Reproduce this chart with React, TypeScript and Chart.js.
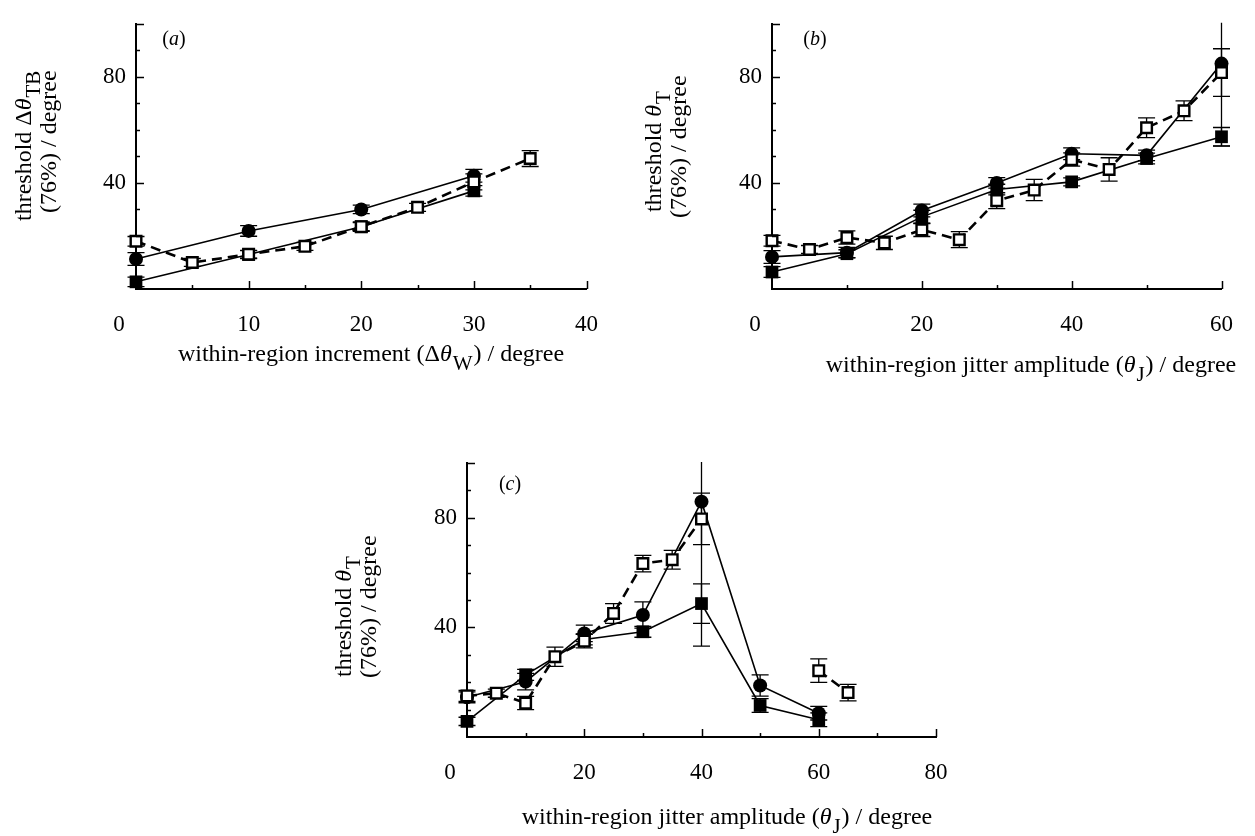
import React, { useEffect, useRef } from 'react';
import { Chart, registerables } from 'chart.js';

Chart.register(...registerables);

const FAMILY = "'Liberation Serif', 'Times New Roman', Times, serif";
const TICK_SIZE = 23;
const TITLE_SIZE = 24;
const LETTER_SIZE = 20;
const X_TICK_PAD = 22;

// ---------------- Panel (a) ----------------
const aXTickLabels = [0, 10, 20, 30, 40];
const aYTickLabels = [40, 80];
const aCircleX = [0, 10, 20, 30];
const aCircleY = [11.3, 21.9, 30.0, 42.7];
const aCircleErr = [2.4, 2.0, 1.6, 2.4];
const aFilledX = [0, 10, 20, 30];
const aFilledY = [2.7, 13.0, 23.5, 37.0];
const aFilledErr = [1.8, 1.5, 1.5, 2.0];
const aOpenX = [0, 5, 10, 15, 20, 25, 30, 35];
const aOpenY = [18.0, 10.0, 13.1, 16.1, 23.5, 30.8, 40.4, 49.2];
const aOpenErr = [1.8, 1.5, 1.5, 1.5, 1.8, 1.5, 3.0, 3.0];

// ---------------- Panel (b) ----------------
const bXTickLabels = [0, 20, 40, 60];
const bYTickLabels = [40, 80];
const bCircleX = [0, 10, 20, 30, 40, 50, 60];
const bCircleY = [12.1, 13.7, 29.6, 40.0, 51.0, 50.4, 85.0];
const bCircleErr = [2.4, 2.0, 2.4, 2.0, 2.2, 2.0, 31.0];
const bFilledX = [0, 10, 20, 30, 40, 50, 60];
const bFilledY = [6.4, 13.3, 27.2, 37.5, 40.4, 49.2, 57.4];
const bFilledErr = [2.0, 1.5, 2.5, 2.0, 1.5, 2.0, 3.5];
const bOpenX = [0, 5, 10, 15, 20, 25, 30, 35, 40, 45, 50, 55, 60];
const bOpenY = [18.2, 14.9, 19.4, 17.4, 22.3, 18.6, 33.3, 37.3, 48.8, 45.1, 60.8, 67.2, 81.6];
const bOpenErr = [2.0, 1.5, 2.5, 2.5, 2.5, 3.0, 3.0, 4.0, 2.5, 4.4, 3.7, 3.7, 9.0];

// ---------------- Panel (c) ----------------
const cXTickLabels = [0, 20, 40, 60, 80];
const cYTickLabels = [40, 80];
const cCircleX = [0, 10, 20, 30, 40, 50, 60];
const cCircleY = [14.5, 20.2, 37.8, 44.5, 85.9, 18.8, 8.7];
const cCircleErr = [2.0, 3.0, 3.0, 4.8, 52.7, 3.9, 2.5];
const cFilledX = [0, 10, 20, 30, 40, 50, 60];
const cFilledY = [5.7, 22.7, 35.6, 38.4, 48.7, 11.5, 6.3];
const cFilledErr = [1.5, 2.0, 2.0, 2.0, 7.2, 2.5, 2.5];
const cOpenX = [0, 5, 10, 15, 20, 25, 30, 35, 40, 50, 60, 65];
const cOpenY: (number | null)[] = [15.0, 16.0, 12.4, 29.3, 35.0, 45.1, 63.3, 64.7, 79.6, null, 24.2, 16.2];
const cOpenErr = [2.0, 1.5, 2.4, 3.5, 2.5, 3.6, 3.0, 3.4, 9.4, 0, 4.3, 3.0];

type Seg = { t: string; it?: boolean; sub?: boolean };
type Kind = 'open' | 'circle' | 'filled';
type Series = { kind: Kind; x: number[]; y: (number | null)[]; err: number[] };
type Panel = {
  key: string;
  left: number;
  top: number;
  width: number;
  height: number;
  area: { l: number; r: number; t: number; b: number };
  xMax: number;
  yMax: number;
  xMinor: number;
  yMinor: number;
  xTicks: number[];
  yTicks: number[];
  series: Series[];
  letter: string;
  letterPos: [number, number];
  xTitle: Seg[];
  xTitlePos: [number, number];
  yTitle: Seg[][];
  yTitlePos: [number, number][];
};

const jitterTitle: Seg[] = [
  { t: 'within-region jitter amplitude (' },
  { t: 'θ', it: true },
  { t: 'J', sub: true },
  { t: ') / degree' },
];
const thetaT: Seg[][] = [
  [{ t: 'threshold ' }, { t: 'θ', it: true }, { t: 'T', sub: true }],
  [{ t: '(76%) / degree' }],
];

const panels: Panel[] = [
  {
    key: 'a',
    left: 0,
    top: 0,
    width: 620,
    height: 400,
    area: { l: 136, r: 606, t: 15, b: 289 },
    xMax: 40,
    yMax: 100,
    xMinor: 5,
    yMinor: 10,
    xTicks: aXTickLabels,
    yTicks: aYTickLabels,
    series: [
      { kind: 'open', x: aOpenX, y: aOpenY, err: aOpenErr },
      { kind: 'circle', x: aCircleX, y: aCircleY, err: aCircleErr },
      { kind: 'filled', x: aFilledX, y: aFilledY, err: aFilledErr },
    ],
    letter: 'a',
    letterPos: [174, 45],
    xTitle: [
      { t: 'within-region increment (Δ' },
      { t: 'θ', it: true },
      { t: 'W', sub: true },
      { t: ') / degree' },
    ],
    xTitlePos: [371, 361],
    yTitle: [
      [{ t: 'threshold Δ' }, { t: 'θ', it: true }, { t: 'TB', sub: true }],
      [{ t: '(76%) / degree' }],
    ],
    yTitlePos: [
      [31, 221],
      [56, 213],
    ],
  },
  {
    key: 'b',
    left: 620,
    top: 0,
    width: 635,
    height: 400,
    area: { l: 152, r: 620, t: 15, b: 289 },
    xMax: 60,
    yMax: 100,
    xMinor: 10,
    yMinor: 10,
    xTicks: bXTickLabels,
    yTicks: bYTickLabels,
    series: [
      { kind: 'open', x: bOpenX, y: bOpenY, err: bOpenErr },
      { kind: 'circle', x: bCircleX, y: bCircleY, err: bCircleErr },
      { kind: 'filled', x: bFilledX, y: bFilledY, err: bFilledErr },
    ],
    letter: 'b',
    letterPos: [195, 45],
    xTitle: jitterTitle,
    xTitlePos: [411, 372],
    yTitle: thetaT,
    yTitlePos: [
      [41, 212],
      [66, 218],
    ],
  },
  {
    key: 'c',
    left: 300,
    top: 420,
    width: 700,
    height: 416,
    area: { l: 167, r: 636, t: 43, b: 317 },
    xMax: 80,
    yMax: 100,
    xMinor: 10,
    yMinor: 10,
    xTicks: cXTickLabels,
    yTicks: cYTickLabels,
    series: [
      { kind: 'open', x: cOpenX, y: cOpenY, err: cOpenErr },
      { kind: 'circle', x: cCircleX, y: cCircleY, err: cCircleErr },
      { kind: 'filled', x: cFilledX, y: cFilledY, err: cFilledErr },
    ],
    letter: 'c',
    letterPos: [210, 70],
    xTitle: jitterTitle,
    xTitlePos: [427, 404],
    yTitle: thetaT,
    yTitlePos: [
      [51, 257],
      [76, 258],
    ],
  },
];

function drawRich(
  ctx: CanvasRenderingContext2D,
  segs: Seg[],
  x: number,
  y: number,
  size: number,
  align: 'left' | 'center',
  rotate: boolean
) {
  ctx.save();
  ctx.translate(x, y);
  if (rotate) ctx.rotate(-Math.PI / 2);
  ctx.textBaseline = 'alphabetic';
  ctx.textAlign = 'left';
  ctx.fillStyle = '#000';
  const fonts = segs.map(
    (s) => `${s.it ? 'italic ' : ''}${s.sub ? Math.round(size * 0.86) : size}px ${FAMILY}`
  );
  const widths = segs.map((s, i) => {
    ctx.font = fonts[i];
    return ctx.measureText(s.t).width + (s.sub ? size * 0.08 : 0);
  });
  const total = widths.reduce((a, b) => a + b, 0);
  let cx = align === 'center' ? -total / 2 : 0;
  segs.forEach((s, i) => {
    ctx.font = fonts[i];
    ctx.fillText(s.t, cx + (s.sub ? size * 0.04 : 0), s.sub ? size * 0.36 : 0);
    cx += widths[i];
  });
  ctx.restore();
}

function makeDecor(p: Panel) {
  return {
    id: 'decor_' + p.key,
    beforeDatasetsDraw(chart: any) {
      const ctx: CanvasRenderingContext2D = chart.ctx;
      const a = chart.chartArea;
      const ys = chart.scales.y;
      ctx.save();
      ctx.beginPath();
      ctx.rect(0, a.top - 1, chart.width, a.bottom - a.top + 2);
      ctx.clip();
      ctx.strokeStyle = '#000';
      ctx.lineWidth = 1.3;
      p.series.forEach((s, di) => {
        const meta = chart.getDatasetMeta(di);
        s.y.forEach((v, j) => {
          const e = s.err[j];
          if (v === null || !e) return;
          const px = meta.data[j].x;
          const top = ys.getPixelForValue(v + e);
          const bot = ys.getPixelForValue(v - e);
          ctx.beginPath();
          ctx.moveTo(px, top);
          ctx.lineTo(px, bot);
          ctx.moveTo(px - 8.5, top);
          ctx.lineTo(px + 8.5, top);
          ctx.moveTo(px - 8.5, bot);
          ctx.lineTo(px + 8.5, bot);
          ctx.stroke();
        });
      });
      ctx.restore();
    },
    afterDraw(chart: any) {
      const ctx: CanvasRenderingContext2D = chart.ctx;
      const a = chart.chartArea;
      const xs = chart.scales.x;
      const ys = chart.scales.y;
      ctx.save();
      ctx.strokeStyle = '#000';
      ctx.lineWidth = 1.5;
      // inward tick marks on x
      for (let v = p.xMinor; v <= p.xMax + 1e-9; v += p.xMinor) {
        const px = Math.round(xs.getPixelForValue(v)) + 0.5;
        const major = p.xTicks.includes(v) || v === p.xMax;
        ctx.beginPath();
        ctx.moveTo(px, a.bottom);
        ctx.lineTo(px, a.bottom - (major ? 8 : 4));
        ctx.stroke();
      }
      // inward tick marks on y
      for (let v = p.yMinor; v <= p.yMax + 1e-9; v += p.yMinor) {
        const py = Math.round(ys.getPixelForValue(v)) + 0.5;
        const major = p.yTicks.includes(v) || v === p.yMax;
        ctx.beginPath();
        ctx.moveTo(a.left, py);
        ctx.lineTo(a.left + (major ? 8 : 4), py);
        ctx.stroke();
      }
      // the "0" x label sits left of the axis origin in the original
      ctx.fillStyle = '#000';
      ctx.font = `${TICK_SIZE}px ${FAMILY}`;
      ctx.textAlign = 'center';
      ctx.textBaseline = 'middle';
      ctx.fillText('0', xs.getPixelForValue(0) - 17, a.bottom + X_TICK_PAD + TICK_SIZE * 0.6);
      ctx.restore();

      drawRich(ctx, p.xTitle, p.xTitlePos[0], p.xTitlePos[1], TITLE_SIZE, 'center', false);
      p.yTitle.forEach((line, i) =>
        drawRich(ctx, line, p.yTitlePos[i][0], p.yTitlePos[i][1], TITLE_SIZE, 'left', true)
      );
      drawRich(
        ctx,
        [{ t: '(' }, { t: p.letter, it: true }, { t: ')' }],
        p.letterPos[0],
        p.letterPos[1],
        LETTER_SIZE,
        'center',
        false
      );
    },
  };
}

function toDataset(s: Series) {
  const base: any = {
    data: s.x.map((x, i) => ({ x, y: s.y[i] })),
    borderColor: '#000',
    pointBorderColor: '#000',
    showLine: true,
    tension: 0,
    clip: false,
    spanGaps: false,
    pointHoverRadius: 0,
  };
  if (s.kind === 'open') {
    return {
      ...base,
      borderWidth: 2.6,
      borderDash: [10, 6],
      pointStyle: 'rect',
      pointRadius: 7.5,
      pointBorderWidth: 2.4,
      pointBackgroundColor: '#fff',
    };
  }
  if (s.kind === 'filled') {
    return {
      ...base,
      borderWidth: 1.6,
      pointStyle: 'rect',
      pointRadius: 9,
      pointBorderWidth: 0,
      pointBackgroundColor: '#000',
    };
  }
  return {
    ...base,
    borderWidth: 1.6,
    pointStyle: 'circle',
    pointRadius: 7,
    pointBorderWidth: 0,
    pointBackgroundColor: '#000',
  };
}

function PanelChart({ p }: { p: Panel }) {
  const ref = useRef<HTMLCanvasElement>(null);
  useEffect(() => {
    const canvas = ref.current;
    if (!canvas) return;
    const tickFont = { family: FAMILY, size: TICK_SIZE };
    const chart = new Chart(canvas, {
      type: 'scatter',
      data: { datasets: p.series.map(toDataset) },
      options: {
        animation: false,
        responsive: false,
        maintainAspectRatio: false,
        devicePixelRatio: 1,
        events: [],
        layout: { padding: { left: 0, top: p.area.t, right: p.width - p.area.r, bottom: 0 } },
        plugins: { legend: { display: false }, tooltip: { enabled: false } },
        scales: {
          x: {
            type: 'linear',
            min: 0,
            max: p.xMax,
            afterFit: (s: any) => {
              s.height = p.height - p.area.b;
            },
            afterBuildTicks: (s: any) => {
              s.ticks = p.xTicks.map((v) => ({ value: v }));
            },
            grid: { display: false, drawTicks: false },
            border: { display: true, color: '#000', width: 2 },
            ticks: {
              color: '#000',
              font: tickFont,
              padding: X_TICK_PAD,
              maxRotation: 0,
              autoSkip: false,
              callback: (v: any) => (Number(v) === 0 ? '' : String(v)),
            },
          },
          y: {
            type: 'linear',
            min: 0,
            max: p.yMax,
            afterFit: (s: any) => {
              s.width = p.area.l;
            },
            afterBuildTicks: (s: any) => {
              s.ticks = p.yTicks.map((v) => ({ value: v }));
            },
            grid: { display: false, drawTicks: false },
            border: { display: true, color: '#000', width: 2 },
            ticks: {
              color: '#000',
              font: tickFont,
              padding: 10,
              autoSkip: false,
              callback: (v: any) => String(v),
            },
          },
        },
      } as any,
      plugins: [makeDecor(p)],
    });
    return () => chart.destroy();
  }, [p]);
  return (
    <canvas
      ref={ref}
      width={p.width}
      height={p.height}
      style={{ position: 'absolute', left: p.left, top: p.top, width: p.width, height: p.height }}
    />
  );
}

export default function App() {
  return (
    <div
      style={{ position: 'absolute', left: 0, top: 0, width: 1255, height: 836, background: '#fff', overflow: 'hidden' }}
    >
      {panels.map((p) => (
        <PanelChart key={p.key} p={p} />
      ))}
    </div>
  );
}
